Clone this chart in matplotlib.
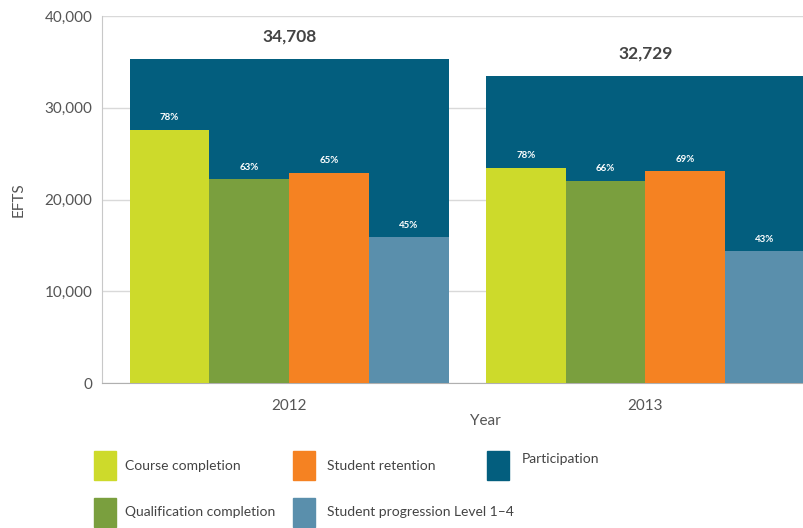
import matplotlib
matplotlib.use("Agg")
import matplotlib.pyplot as plt
from matplotlib.patches import Rectangle
import numpy as np

# data
years = ["2012", "2013"]
participation = [35300, 33480]
participation_labels = ["34,708", "32,729"]

series_names = ["Course completion", "Qualification completion",
                "Student retention", "Student progression Level 1–4"]
course_completion = [27600, 23500]
qualification_completion = [22200, 22050]
student_retention = [22950, 23120]
student_progression = [15900, 14400]

course_pct = ["78%", "78%"]
qualification_pct = ["63%", "66%"]
retention_pct = ["65%", "69%"]
progression_pct = ["45%", "43%"]

colors = {
    "Course completion": "#cdda2b",
    "Qualification completion": "#7a9f3e",
    "Student retention": "#f58222",
    "Student progression Level 1–4": "#5a8fac",
    "Participation": "#035e7e",
}

plt.rcParams["font.family"] = ["Lato", "DejaVu Sans"]
W, H = 804, 528

fig = plt.figure(figsize=(W / 100, H / 100), dpi=100)
ax = fig.add_axes([102 / W, 1 - 383.3 / H, 1 - 102 / W, (383.3 - 16) / H])

x = np.arange(len(years))
w = 0.2237

ax.bar(x, participation, width=4 * w, color=colors["Participation"], zorder=2)
for xi, val, lab in zip(x, participation, participation_labels):
    ax.annotate(lab, (xi, val), xytext=(0, 16), textcoords="offset points",
                ha="center", va="center", fontsize=12.5, fontweight="bold", color="#444444")

series_vals = [course_completion, qualification_completion, student_retention, student_progression]
series_pct = [course_pct, qualification_pct, retention_pct, progression_pct]
for i, (name, vals, pcts) in enumerate(zip(series_names, series_vals, series_pct)):
    pos = x + (i - 1.5) * w
    ax.bar(pos, vals, width=w, color=colors[name], zorder=3)
    for p, v, t in zip(pos, vals, pcts):
        ax.annotate(t, (p, v), xytext=(0, 8.6), textcoords="offset points",
                    ha="center", va="center", fontsize=7, fontweight="bold", color="white")

ax.set_xlim(-0.525, 1.445)
ax.set_ylim(0, 40000)
ax.set_yticks([0, 10000, 20000, 30000, 40000])
ax.set_yticklabels(["0", "10,000", "20,000", "30,000", "40,000"])
ax.set_xticks(x)
ax.set_xticklabels(years)
ax.tick_params(axis="both", length=0, labelsize=11, labelcolor="#555555")
ax.tick_params(axis="y", pad=7)
ax.tick_params(axis="x", pad=11)
ax.yaxis.grid(True, color="#d9d9d9", linewidth=1, zorder=0)
ax.set_axisbelow(True)
for s in ["top", "right"]:
    ax.spines[s].set_visible(False)
ax.spines["left"].set_color("#c8c8c8")
ax.spines["bottom"].set_color("#b0b0b0")

fig.text(19 / W, 1 - 200 / H, "EFTS", rotation=90, ha="center", va="center",
         fontsize=11, color="#555555")
fig.text(485 / W, 1 - 421 / H, "Year", ha="center", va="center",
         fontsize=11, color="#555555")

# legend laid out like the reference (3 columns, 2 rows)
legend_items = [
    ("Course completion", 94, 451, 125, 466),
    ("Qualification completion", 94, 498, 125, 512),
    ("Student retention", 293, 451, 327, 466),
    ("Student progression Level 1–4", 293, 498, 327, 512),
    ("Participation", 487, 451, 522, 459),
]
for name, px, py, tx, ty in legend_items:
    fig.add_artist(Rectangle((px / W, 1 - (py + 29) / H), 22 / W, 29 / H,
                             transform=fig.transFigure, color=colors[name]))
    fig.text(tx / W, 1 - ty / H, name, ha="left", va="center", fontsize=10, color="#444444")

fig.savefig("out.png", dpi=100)
